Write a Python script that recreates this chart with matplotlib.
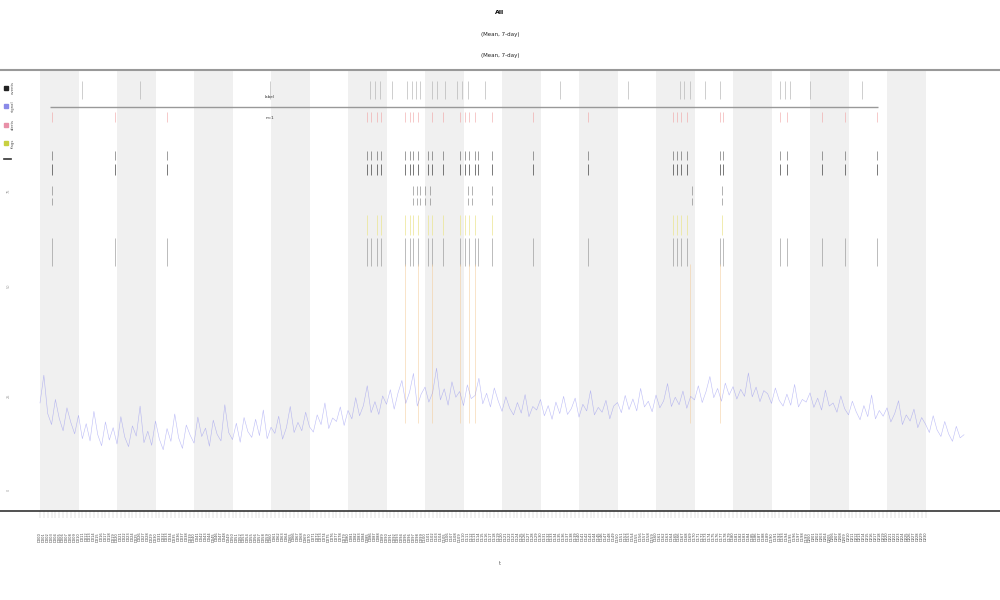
import matplotlib
matplotlib.use("Agg")
import matplotlib.pyplot as plt

# ---- data ----
# blue signal, one value per day (0..240)
signal = [
    24.5, 30.8, 22.1, 19.6, 25.3, 21.0, 18.2, 23.4, 20.1, 17.5,
    21.7, 16.4, 19.8, 15.9, 22.6, 17.3, 14.8, 20.2, 16.1, 18.9,
    15.2, 21.4, 16.8, 14.6, 19.3, 17.0, 23.8, 15.5, 18.1, 14.9,
    20.4, 16.3, 13.9, 18.7, 15.8, 22.0, 16.6, 14.2, 19.5, 17.2,
    15.4, 21.3, 16.9, 18.8, 14.7, 20.6, 17.4, 15.9, 24.1, 17.8,
    16.2, 19.9, 15.6, 21.2, 18.0, 16.7, 20.8, 17.1, 22.9, 16.4,
    19.0, 17.6, 21.5, 16.3, 18.9, 23.7, 17.8, 20.1, 18.2, 22.4,
    19.1, 17.9, 21.8, 19.6, 24.5, 18.7, 21.1, 20.3, 23.6, 19.4,
    22.8, 20.9, 25.7, 21.6, 23.9, 28.4, 22.3, 24.8, 21.9, 26.1,
    24.2, 27.5, 23.1, 26.8, 29.6, 24.4, 27.0, 31.2, 23.8, 26.5,
    28.1, 24.7, 26.9, 32.4, 25.2, 27.7, 24.0, 29.3, 25.8, 27.1,
    23.9, 28.6, 25.5, 26.2, 30.1, 24.3, 26.7, 23.6, 27.9, 25.0,
    22.6, 25.9, 23.3, 21.8, 24.6, 22.2, 26.4, 21.4, 23.7, 22.9,
    25.3, 21.6, 23.9, 20.8, 24.7, 22.1, 26.0, 21.9, 23.2, 25.6,
    21.3, 24.2, 22.7, 27.3, 21.8, 23.5, 22.4, 25.1, 20.9, 23.8,
    24.6, 22.3, 26.2, 23.0, 25.4, 22.7, 27.8, 23.6, 24.9, 22.5,
    26.3, 23.4, 25.0, 28.9, 23.7, 25.8, 24.1, 27.2, 23.3, 26.0,
    25.2, 28.4, 24.6, 27.1, 30.5, 25.7, 27.8, 24.9, 29.0, 26.3,
    28.2, 25.4, 27.6, 26.0, 31.3, 25.9, 28.1, 24.8, 27.3, 26.6,
    24.4, 27.9, 25.1, 23.8, 26.5, 24.0, 28.7, 23.6, 25.3, 24.7,
    26.8, 23.5, 25.6, 22.9, 27.4, 23.8, 24.5, 22.4, 26.1, 23.2,
    21.8, 24.9, 22.5, 20.7, 23.9, 21.4, 26.3, 20.9, 22.8, 21.5,
    23.4, 20.2, 22.1, 25.0, 19.6, 21.8, 20.4, 23.1, 18.9, 21.2,
    19.7, 17.8, 21.6, 18.4, 16.9, 20.3, 17.5, 15.8, 19.2, 16.6,
    17.3,
]
days = list(range(len(signal)))

# event positions (day) for each track row
events_top = [10.9, 26.0, 59.7, 85.7, 87.0, 88.3, 91.4, 95.3, 96.6, 97.7, 98.7,
              101.8, 103.1, 105.2, 108.3, 109.6, 111.2, 115.6, 135.1, 152.7,
              166.2, 167.3, 168.8, 172.7, 176.6, 192.2, 193.5, 194.8, 200.0, 213.5]
events_main = [3.1, 19.5, 33.0, 84.9, 86.0, 87.5, 88.6, 94.8, 96.1, 96.9, 98.2,
               100.8, 101.8, 104.7, 109.1, 110.4, 111.4, 113.0, 113.8, 117.4,
               128.1, 142.3, 164.4, 165.5, 166.5, 168.1, 176.6, 177.4, 192.2,
               194.0, 203.1, 209.1, 217.4]
events_alert = [3.1, 19.5, 33.0, 84.9, 86.0, 87.5, 88.6, 94.8, 96.1, 96.9, 98.2,
                101.8, 104.7, 109.1, 110.4, 111.4, 113.0, 117.4, 128.1, 142.3,
                164.4, 165.5, 166.5, 168.1, 176.6, 177.4, 192.2, 194.0, 203.1,
                209.1, 217.4]
events_mid = [3.1, 96.9, 97.9, 98.7, 100.0, 101.3, 111.2, 112.2, 117.4, 169.4, 177.1]
events_flag = [84.9, 87.5, 88.6, 94.8, 96.1, 96.9, 98.2, 100.8, 101.8, 104.7,
               109.1, 110.4, 111.4, 113.0, 117.4, 164.4, 165.5, 166.5, 168.1, 177.1]
events_long = [94.8, 98.2, 101.8, 109.1, 111.4, 113.0, 168.8, 176.6]

tick_labels = [f"D{d:03d}" for d in range(231)]
legend_labels = ["events", "signal", "alerts", "flags"]
legend_colors = ["#222222", "#8a8ae8", "#e890a8", "#c8d040"]
title_lines = ["All", "(Mean, 7-day)", "(Mean, 7-day)"]

# ---- figure ----
fig = plt.figure(figsize=(10, 6), dpi=100)
ax = fig.add_axes([0.0, 0.1483, 1.0, 0.735])

# alternating background bands, 10 days each
for start in range(0, 230, 20):
    ax.axvspan(start, start + 10, color="#f0f0f0", lw=0, zorder=0)

# signal
ax.plot(days, signal, color="#7a7aee", lw=0.4, alpha=0.5, zorder=3)

# event tracks
ax.vlines(events_top, 93.5, 97.5, color="#aaaaaa", lw=0.4)
ax.hlines(91.6, 2.6, 217.7, color="#999999", lw=1.0)
ax.vlines(events_alert, 88.3, 90.5, color="#f0a0a0", lw=0.4)
ax.vlines(events_main, 79.6, 81.6, color="#555555", lw=0.4)
ax.vlines(events_main, 76.3, 78.8, color="#444444", lw=0.5)
ax.vlines(events_mid, 71.6, 73.8, color="#777777", lw=0.4)
ax.vlines(events_mid, 69.3, 71.0, color="#777777", lw=0.4)
ax.vlines(events_flag, 62.5, 67.2, color="#ebe590", lw=0.5)
ax.vlines(events_main, 55.5, 62.0, color="#8a8a8a", lw=0.4)
ax.vlines(events_long, 20.0, 56.0, color="#f5cfa0", lw=0.4, zorder=2)

ax.text(59.7, 93.9, "label", fontsize=3, ha="center", va="center", color="#333333")
ax.text(59.7, 89.1, "n=1", fontsize=3, ha="center", va="center", color="#333333")

# manual legend, rotated text
for i, (lab, col) in enumerate(zip(legend_labels, legend_colors)):
    yf = 0.96 - i * 0.042
    ax.plot([0.006], [yf], marker="s", ms=2.5, color=col, transform=ax.transAxes,
            clip_on=False, zorder=5)
    ax.text(0.011, yf, lab, fontsize=2.8, rotation=90, ha="left", va="center",
            color="#555555", transform=ax.transAxes)
ax.plot([0.004, 0.011], [0.798, 0.798], color="#333333", lw=1.2, transform=ax.transAxes)

# axes styling
ax.set_xlim(-10.39, 249.35)
ax.set_ylim(0, 100)
ax.set_xticks(range(231))
ax.set_xticklabels(tick_labels, rotation=90, fontsize=2.6, color="#444444")
ax.tick_params(axis="x", length=5, width=0.3, color="#bbbbbb", pad=10)
ax.set_yticks([4.8, 26.3, 51.2, 72.8])
ax.set_yticklabels(["0", "25", "50", "75"], rotation=90, fontsize=2.5, color="#999999")
ax.tick_params(axis="y", length=0, pad=-8)
for s in ["left", "right"]:
    ax.spines[s].set_visible(False)
ax.spines["top"].set_color("#999999")
ax.spines["top"].set_linewidth(1.5)
ax.spines["bottom"].set_color("#333333")
ax.spines["bottom"].set_linewidth(1.2)
ax.set_xlabel("t", fontsize=3.5, labelpad=14, color="#555555")

fig.text(0.5, 0.98, title_lines[0], fontsize=4.5, ha="center", va="center", weight="bold")
fig.text(0.5, 0.942, title_lines[1], fontsize=4, ha="center", va="center", color="#222222")
fig.text(0.5, 0.908, title_lines[2], fontsize=4, ha="center", va="center", color="#222222")

fig.savefig("out.png", dpi=100)
